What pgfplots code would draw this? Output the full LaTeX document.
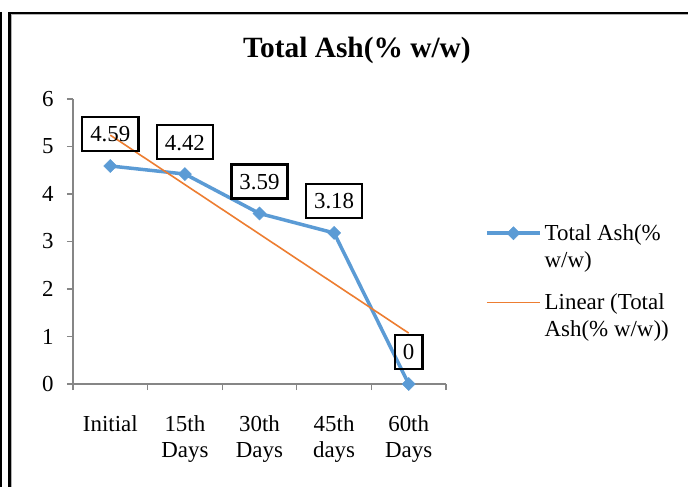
\documentclass[border=0pt]{standalone}
\usepackage{fontspec}
\setmainfont{Liberation Serif}
\usepackage{pgfplots}
\pgfplotsset{compat=1.18}
\definecolor{blueS}{HTML}{5B9BD5}
\definecolor{orangeT}{HTML}{ED7D31}
\definecolor{axgray}{HTML}{868686}
\begin{document}
\begin{tikzpicture}
\path[use as bounding box] (0,0) rectangle (688bp,487bp);
\fill[white] (0,0) rectangle (688bp,487bp);
\draw[line width=1.5bp] (0.75bp,0) -- (0.75bp,475bp);
\draw[line width=2.5bp] (9.25bp,0) -- (9.25bp,473.75bp) -- (688bp,473.75bp);
\draw[gray!60, line width=1bp] (11bp,0) -- (11bp,472bp) -- (688bp,472bp);
\node[font=\fontsize{29.5}{33}\selectfont\bfseries, anchor=base] at (357bp,429bp) {Total Ash(\% w/w)};
\begin{axis}[
  at={(73bp,103bp)}, anchor=south west,
  scale only axis, width=373bp, height=285bp,
  xmin=0.5, xmax=5.5, ymin=0, ymax=6,
  clip=false,
  axis x line*=bottom, axis y line*=left,
  axis line style={axgray, line width=1.2bp, -},
  xtick={1,...,5},
  xticklabels={Initial, 15th\\Days, 30th\\Days, 45th\\days, 60th\\Days},
  minor xtick={0.5,1.5,...,5.5},
  ytick={0,...,6},
  tick align=outside,
  major x tick style={draw=none},
  tick style={axgray, line width=1.2bp},
  major tick length=6bp, minor tick length=6bp,
  xticklabel style={align=center, font=\fontsize{23}{26}\selectfont, yshift=-22bp},
  yticklabel style={font=\fontsize{23}{26}\selectfont, xshift=-10bp},
  /pgf/number format/assume math mode=true,
  legend style={draw=none, fill=none, at={(1,0.56)}, anchor=north west, xshift=39bp,
    font=\fontsize{23}{27}\selectfont, cells={anchor=west, align=left},
    column sep=3bp, row sep=25bp, inner sep=0pt, nodes={inner sep=0pt}},
  legend image code/.code={\draw[mark repeat=2, mark phase=2, #1] plot coordinates {(0bp,13.5bp) (26.5bp,13.5bp) (53bp,13.5bp)};},
  nodes near coords style={draw=black, line width=2.4bp, fill=none, text=black,
    font=\fontsize{23}{26}\selectfont, inner xsep=8bp, inner ysep=0bp,
    text height=16bp, text depth=0bp, minimum height=34bp, anchor=center, yshift=32bp},
]
\addplot[blueS, line width=3.5bp, mark=square*, mark size=4.6bp,
  mark options={solid, rotate=45, fill=blueS, draw=blueS, line width=0.5bp},
  nodes near coords]
  coordinates {(1,4.59) (2,4.42) (3,3.59) (4,3.18) (5,0)};
\addlegendentry{Total Ash(\%\\w/w)}
\addplot[orangeT, line width=1.6bp, no marks]
  coordinates {(1,5.24) (5,1.072)};
\addlegendentry{Linear (Total\\Ash(\% w/w))}
\end{axis}
\end{tikzpicture}
\end{document}
